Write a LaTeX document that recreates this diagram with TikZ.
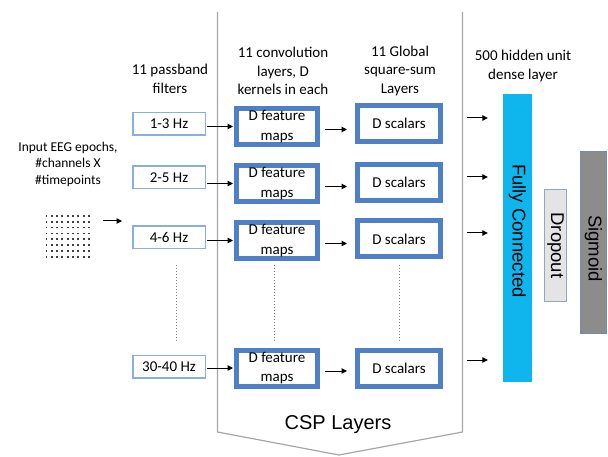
\documentclass[tikz,border=0pt]{standalone}
\usepackage{fontspec}
\setmainfont{Carlito}
\newfontfamily\arialfont{Liberation Sans}
\usetikzlibrary{arrows.meta}
\definecolor{fmblue}{HTML}{4F7FC4}
\definecolor{filtblue}{HTML}{8AAEE2}
\definecolor{cspgray}{HTML}{A6A6A6}
\definecolor{fccyan}{HTML}{0FB6EE}
\definecolor{dropfill}{HTML}{E4E4E4}
\definecolor{dropline}{HTML}{8FA6C8}
\definecolor{sigfill}{HTML}{8C8C8C}
\definecolor{sigline}{HTML}{7A8AA2}
\tikzset{
  txt/.style={font=\fontsize{15}{18.5}\selectfont, align=center, inner sep=0pt},
  filtbox/.style={draw=filtblue, line width=1.5pt, fill=white, minimum width=72.5pt, minimum height=22.5pt, inner sep=0pt, font=\fontsize{15}{18}\selectfont},
  fmbox/.style={draw=fmblue, line width=5pt, fill=white, minimum width=81pt, minimum height=36pt, inner sep=0pt, align=center, font=\fontsize{15}{19.5}\selectfont},
  scbox/.style={draw=fmblue, line width=5pt, fill=white, minimum width=83pt, minimum height=36pt, inner sep=0pt, font=\fontsize{15}{18}\selectfont},
  arr/.style={-{Triangle[length=5.5pt,width=5.5pt]}, line width=1pt, black},
  dotv/.style={black!50, dash pattern=on 1pt off 2pt, line width=1pt},
  vbar/.style={inner sep=0pt, font=\arialfont\fontsize{18.5}{20}\selectfont}
}
\begin{document}
\begin{tikzpicture}[x=1pt,y=-1pt]
\useasboundingbox (0,0) rectangle (608,457);
% CSP layers outline
\draw[cspgray, line width=1.2pt] (217.5,12) -- (217.5,432) -- (339,455) -- (462.5,432) -- (462.5,12);
\node[font=\arialfont\fontsize{20}{22}\selectfont, inner sep=0pt] (csp) at (338,425) {CSP Layers};

% headers
\node[txt] (hfilt) at (170,79) {11 passband\\filters};
\node[txt] (hconv) at (283,71) {11 convolution\\layers, D\\kernels in each};
\node[txt] (hglob) at (400,71) {11 Global\\square-sum\\Layers};
\node[txt] (hdense) at (523,66) {500 hidden unit\\dense layer};
\node[txt, font=\fontsize{13.5}{16.5}\selectfont] (hin) at (68,164) {Input EEG epochs,\\\#channels X\\\#timepoints};

% EEG dot grid
\node[minimum width=46pt, minimum height=44pt, inner sep=0pt] (eeg) at (67.5,236.5) {};
\foreach \i in {0,...,8}{
  \foreach \j in {0,...,7}{
    \fill[black!75] (45.5+\i*5.33, 214.7+\j*5.94) rectangle ++(1.9,1.9);
  }
}
\coordinate (ein) at (103,221);
\coordinate (eout) at (122,221);
\draw[arr] (ein) -- (eout);

% filters
\node[filtbox] (f1) at (169,124) {1-3 Hz};
\node[filtbox] (f2) at (169,177.5) {2-5 Hz};
\node[filtbox] (f3) at (169,237.5) {4-6 Hz};
\node[filtbox] (f4) at (169,366.5) {30-40 Hz};

% feature maps
\node[fmbox] (m1) at (277,126.5) {D feature\\maps};
\node[fmbox] (m2) at (277,183.5) {D feature\\maps};
\node[fmbox] (m3) at (277,240.5) {D feature\\maps};
\node[fmbox] (m4) at (277,368) {D feature\\maps};

% scalars
\node[scbox] (s1) at (399,123.5) {D scalars};
\node[scbox] (s2) at (399,182.5) {D scalars};
\node[scbox] (s3) at (399,239) {D scalars};
\node[scbox] (s4) at (399,368) {D scalars};

% arrows filter -> maps -> scalars
\foreach \k in {1,2,3,4}{
  \draw[arr, shorten >=1pt, shorten <=1pt] (m\k.west -| f\k.east) -- (m\k.west);
  \draw[arr, shorten >=8pt, shorten <=5pt] ([yshift=-3pt]m\k.east) -- ([yshift=-3pt]m\k.east -| s\k.west);
}

% dotted continuation lines
\coordinate (d1a) at (176,265); \coordinate (d1b) at (176,342);
\coordinate (d2a) at (274,265); \coordinate (d2b) at (274,342);
\coordinate (d3a) at (399,265); \coordinate (d3b) at (399,342);
\draw[dotv] (d1a) -- (d1b);
\draw[dotv] (d2a) -- (d2b);
\draw[dotv] (d3a) -- (d3b);

% dense part
\node[vbar, fill=fccyan, minimum width=29pt, minimum height=288pt] (fc) at (517.5,238) {};
\node[vbar, rotate=-90] at ([yshift=7pt]fc.center) {Fully Connected};
\node[vbar, fill=dropfill, draw=dropline, line width=0.8pt, minimum width=22pt, minimum height=112pt] (drop) at (555.5,245.5) {};
\node[vbar, rotate=-90] at (drop.center) {Dropout};
\node[vbar, fill=sigfill, draw=sigline, line width=0.8pt, minimum width=26pt, minimum height=182pt] (sig) at (593.5,242.5) {};
\node[vbar, rotate=-90] at ([yshift=-6pt]sig.center) {Sigmoid};

% arrows into the dense layer
\foreach \k/\yy in {1/118,2/177,3/233,4/360}{
  \coordinate (ia\k) at (467,\yy);
  \draw[arr] (ia\k) -- (ia\k -| fc.west) [shorten >=15pt];
}
\end{tikzpicture}
\end{document}
